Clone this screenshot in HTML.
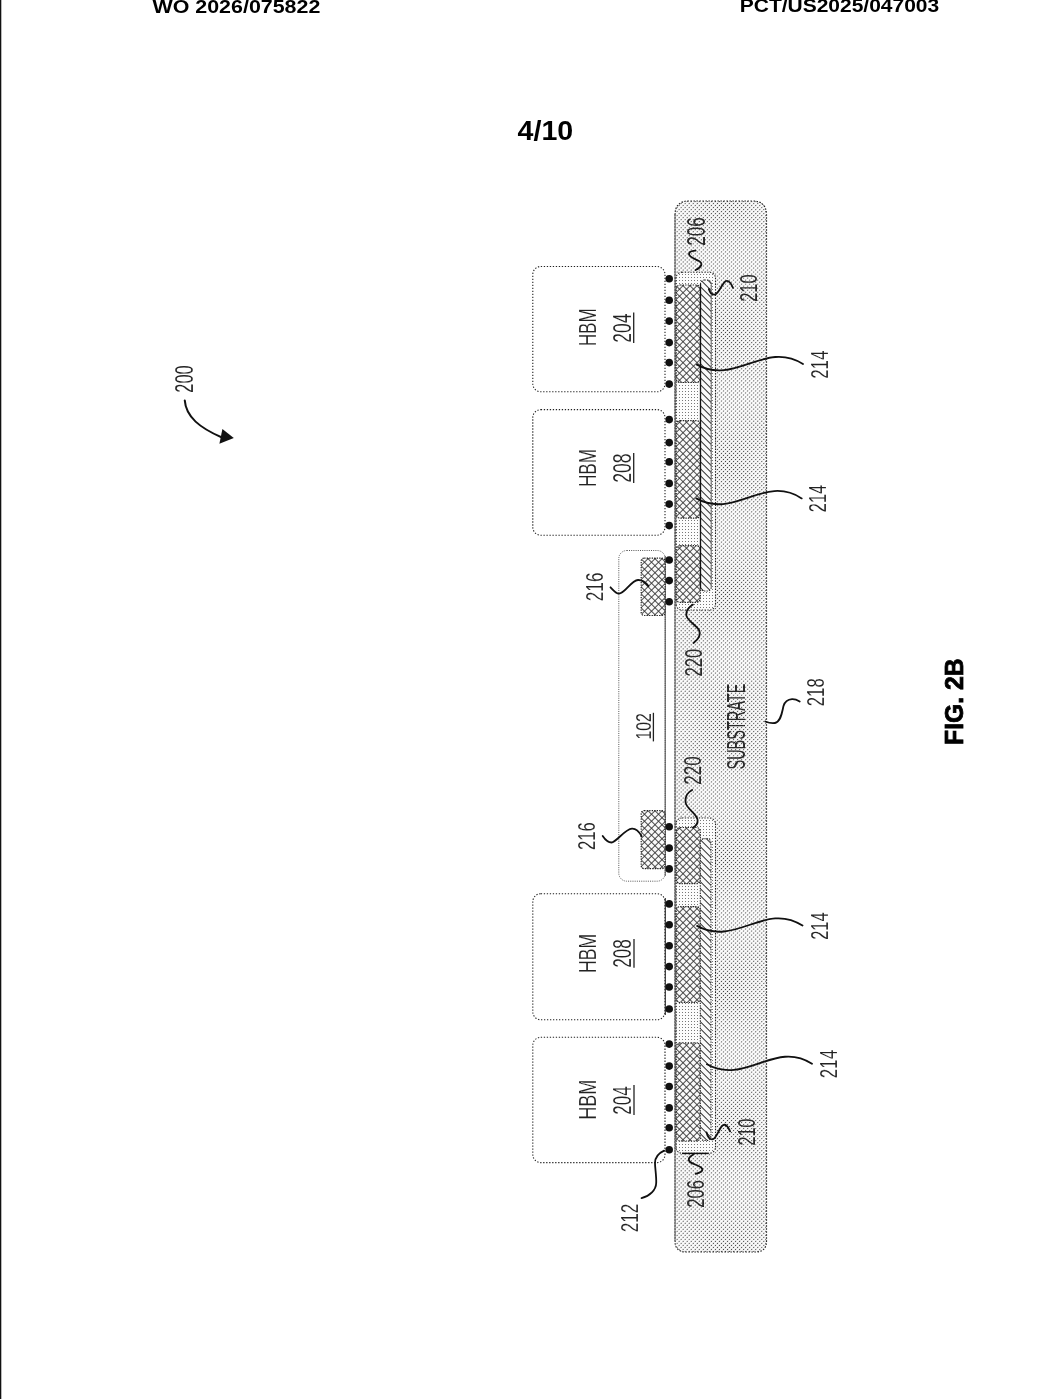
<!DOCTYPE html>
<html><head><meta charset="utf-8"><style>
html,body{margin:0;padding:0;background:#fff;}
body{width:1041px;height:1399px;overflow:hidden;position:relative;}
svg{position:absolute;left:0;top:0;}
text{font-family:"Liberation Sans", sans-serif;}
svg{will-change:transform;}
</style></head><body>
<svg width="1041" height="1399" viewBox="0 0 1041 1399">

<defs>
<pattern id="stip" width="2.85" height="2.85" patternUnits="userSpaceOnUse" patternTransform="rotate(45)">
 <rect width="2.85" height="2.85" fill="#fdfdfd"/>
 <circle cx="1.425" cy="1.425" r="0.6" fill="#404040"/>
</pattern>
<pattern id="light" width="3" height="3" patternUnits="userSpaceOnUse">
 <rect width="3" height="3" fill="#fcfcfc"/>
 <rect x="1" y="1" width="1" height="1" fill="#777"/>
</pattern>
<pattern id="xh" width="4.95" height="4.95" patternUnits="userSpaceOnUse" patternTransform="translate(676,285) rotate(45)">
 <rect width="4.95" height="4.95" fill="#fafafa"/>
 <rect x="0" y="0" width="4.95" height="0.88" fill="#333"/>
 <rect x="0" y="0" width="0.88" height="4.95" fill="#333"/>
</pattern>
<pattern id="dh" width="4.95" height="4.95" patternUnits="userSpaceOnUse" patternTransform="translate(700,280) rotate(-45)">
 <rect width="4.95" height="4.95" fill="#fafafa"/>
 <rect x="0" y="0" width="0.95" height="4.95" fill="#222"/>
</pattern>
</defs>

<rect x="0" y="0" width="1.3" height="1399" fill="#111"/>
<text transform="translate(152.50,12.80) scale(1.2242,1)" x="-0.00" y="0" font-size="17.50" font-weight="bold" fill="#000">WO 2026/075822</text>
<text transform="translate(741.20,12.30) scale(1.2000,1)" x="-1.23" y="0" font-size="17.50" font-weight="bold" fill="#000">PCT/US2025/047003</text>
<text transform="translate(518.10,139.90) scale(1.0409,1)" x="-0.55" y="0" font-size="27.50" font-weight="bold" fill="#000">4/10</text>
<text transform="translate(962.80,743.20) rotate(-90) scale(0.9365,1)" x="-1.85" y="0" font-size="26.43" font-weight="bold" fill="#000" stroke="#000" stroke-width="0.8">FIG. 2B</text>
<path d="M675.0,215.0 Q675.0,201.0 689.0,201.0 L752.5,201.0 Q766.5,201.0 766.5,215.0 L766.5,1241.0 Q766.5,1252.0 755.5,1252.0 L686.0,1252.0 Q675.0,1252.0 675.0,1241.0 Z" fill="url(#stip)" stroke="#222" stroke-width="1.2" stroke-dasharray="1.5 1.5"/>
<line x1="675.0" y1="215.0" x2="675.0" y2="1241.0" stroke="#777" stroke-width="1.2"/>
<rect x="676" y="272.3" width="39.5" height="337.7" rx="6" ry="6" fill="url(#light)" stroke="#222" stroke-width="1.1" stroke-dasharray="1.3 1.5"/>
<rect x="676" y="818.0" width="39.5" height="335.20000000000005" rx="6" ry="6" fill="url(#light)" stroke="#222" stroke-width="1.1" stroke-dasharray="1.3 1.5"/>
<line x1="682" y1="1153.4" x2="708.5" y2="1153.4" stroke="#111" stroke-width="1.5"/>
<rect x="676.2" y="285" width="24.09999999999991" height="97.5" rx="4" ry="4" fill="url(#xh)" stroke="#222" stroke-width="1.2" stroke-dasharray="1.3 1.2"/>
<rect x="676.2" y="420.6" width="24.09999999999991" height="97.60000000000002" rx="4" ry="4" fill="url(#xh)" stroke="#222" stroke-width="1.2" stroke-dasharray="1.3 1.2"/>
<rect x="676.2" y="545.6" width="24.09999999999991" height="56.799999999999955" rx="4" ry="4" fill="url(#xh)" stroke="#222" stroke-width="1.2" stroke-dasharray="1.3 1.2"/>
<rect x="676.2" y="827.5" width="24.09999999999991" height="56.200000000000045" rx="4" ry="4" fill="url(#xh)" stroke="#222" stroke-width="1.2" stroke-dasharray="1.3 1.2"/>
<rect x="676.2" y="906.6" width="24.09999999999991" height="95.89999999999998" rx="4" ry="4" fill="url(#xh)" stroke="#222" stroke-width="1.2" stroke-dasharray="1.3 1.2"/>
<rect x="676.2" y="1043" width="24.09999999999991" height="98" rx="4" ry="4" fill="url(#xh)" stroke="#222" stroke-width="1.2" stroke-dasharray="1.3 1.2"/>
<rect x="700.5" y="280" width="10.799999999999955" height="311" rx="4" ry="4" fill="url(#dh)" stroke="#222" stroke-width="1.1" stroke-dasharray="1.3 1.2"/>
<rect x="700.3" y="838.7" width="10.700000000000045" height="301.79999999999995" rx="4" ry="4" fill="url(#dh)" stroke="#222" stroke-width="1.1" stroke-dasharray="1.3 1.2"/>
<line x1="700.5" y1="284" x2="700.5" y2="588" stroke="#111" stroke-width="1.3"/>
<line x1="711.3" y1="284" x2="711.3" y2="588" stroke="#888" stroke-width="1"/>
<rect x="532.8" y="266.5" width="132.2" height="125.30000000000001" rx="8" ry="8" fill="#fff" stroke="#222" stroke-width="1.1" stroke-dasharray="1.3 1.7"/>
<rect x="532.8" y="409.6" width="132.2" height="125.60000000000002" rx="8" ry="8" fill="#fff" stroke="#222" stroke-width="1.1" stroke-dasharray="1.3 1.7"/>
<rect x="532.8" y="893.7" width="132.2" height="126.09999999999991" rx="8" ry="8" fill="#fff" stroke="#222" stroke-width="1.1" stroke-dasharray="1.3 1.7"/>
<line x1="665.3" y1="898" x2="665.3" y2="1015" stroke="#333" stroke-width="1.2"/>
<rect x="532.8" y="1037.3" width="132.2" height="125.29999999999995" rx="8" ry="8" fill="#fff" stroke="#222" stroke-width="1.1" stroke-dasharray="1.3 1.7"/>
<rect x="618.8" y="550.5" width="46.4" height="330.7" rx="8" ry="8" fill="#fff" stroke="#555" stroke-width="1" stroke-dasharray="1 1.2"/>
<line x1="665.2" y1="556" x2="665.2" y2="876" stroke="#555" stroke-width="1.1"/>
<rect x="641.2" y="558.1" width="23.799999999999955" height="57.39999999999998" rx="3" ry="3" fill="url(#xh)" stroke="#222" stroke-width="1.2" stroke-dasharray="1.3 1.2"/>
<rect x="641.2" y="810.6" width="23.799999999999955" height="58.10000000000002" rx="3" ry="3" fill="url(#xh)" stroke="#222" stroke-width="1.2" stroke-dasharray="1.3 1.2"/>
<circle cx="669.2" cy="278.8" r="3.8" fill="#111"/>
<circle cx="669.2" cy="300.3" r="3.8" fill="#111"/>
<circle cx="669.2" cy="321.1" r="3.8" fill="#111"/>
<circle cx="669.2" cy="342.6" r="3.8" fill="#111"/>
<circle cx="669.2" cy="362.6" r="3.8" fill="#111"/>
<circle cx="669.2" cy="384.1" r="3.8" fill="#111"/>
<circle cx="669.2" cy="419.6" r="3.8" fill="#111"/>
<circle cx="669.2" cy="442.6" r="3.8" fill="#111"/>
<circle cx="669.2" cy="461.9" r="3.8" fill="#111"/>
<circle cx="669.2" cy="483.4" r="3.8" fill="#111"/>
<circle cx="669.2" cy="504.1" r="3.8" fill="#111"/>
<circle cx="669.2" cy="525.6" r="3.8" fill="#111"/>
<circle cx="669.2" cy="560" r="3.8" fill="#111"/>
<circle cx="669.2" cy="580.6" r="3.8" fill="#111"/>
<circle cx="669.2" cy="601.8" r="3.8" fill="#111"/>
<circle cx="669.2" cy="826.8" r="3.8" fill="#111"/>
<circle cx="669.2" cy="848.1" r="3.8" fill="#111"/>
<circle cx="669.2" cy="868.9" r="3.8" fill="#111"/>
<circle cx="669.2" cy="903.9" r="3.8" fill="#111"/>
<circle cx="669.2" cy="924.8" r="3.8" fill="#111"/>
<circle cx="669.2" cy="945.7" r="3.8" fill="#111"/>
<circle cx="669.2" cy="966.6" r="3.8" fill="#111"/>
<circle cx="669.2" cy="987" r="3.8" fill="#111"/>
<circle cx="669.2" cy="1009" r="3.8" fill="#111"/>
<circle cx="669.2" cy="1044.1" r="3.8" fill="#111"/>
<circle cx="669.2" cy="1066.1" r="3.8" fill="#111"/>
<circle cx="669.2" cy="1086.5" r="3.8" fill="#111"/>
<circle cx="669.2" cy="1107.9" r="3.8" fill="#111"/>
<circle cx="669.2" cy="1127.7" r="3.8" fill="#111"/>
<circle cx="669.2" cy="1149.7" r="3.8" fill="#111"/>
<text transform="translate(596.10,344.90) rotate(-90) scale(0.6996,1)" x="-1.96" y="0" font-size="24.49" font-weight="normal" fill="#222" stroke="#fff" stroke-width="0.12">HBM</text>
<text transform="translate(630.70,341.80) rotate(-90) scale(0.6915,1)" x="-1.26" y="0" font-size="25.29" font-weight="normal" fill="#222" stroke="#fff" stroke-width="0.12">204</text>
<line x1="633.7" y1="312.5" x2="633.7" y2="343" stroke="#222" stroke-width="1.3"/>
<text transform="translate(596.10,485.70) rotate(-90) scale(0.7016,1)" x="-1.96" y="0" font-size="24.49" font-weight="normal" fill="#222" stroke="#fff" stroke-width="0.12">HBM</text>
<text transform="translate(630.70,481.80) rotate(-90) scale(0.6952,1)" x="-1.26" y="0" font-size="25.29" font-weight="normal" fill="#222" stroke="#fff" stroke-width="0.12">208</text>
<line x1="633.7" y1="453" x2="633.7" y2="483" stroke="#222" stroke-width="1.3"/>
<text transform="translate(596.20,971.60) rotate(-90) scale(0.7414,1)" x="-1.90" y="0" font-size="23.77" font-weight="normal" fill="#222" stroke="#fff" stroke-width="0.12">HBM</text>
<text transform="translate(630.60,966.90) rotate(-90) scale(0.6815,1)" x="-1.26" y="0" font-size="25.14" font-weight="normal" fill="#222" stroke="#fff" stroke-width="0.12">208</text>
<line x1="634" y1="939" x2="634" y2="967.8" stroke="#222" stroke-width="1.3"/>
<text transform="translate(596.20,1118.40) rotate(-90) scale(0.7461,1)" x="-1.94" y="0" font-size="24.20" font-weight="normal" fill="#222" stroke="#fff" stroke-width="0.12">HBM</text>
<text transform="translate(630.60,1113.80) rotate(-90) scale(0.6754,1)" x="-1.26" y="0" font-size="25.14" font-weight="normal" fill="#222" stroke="#fff" stroke-width="0.12">204</text>
<line x1="634" y1="1085" x2="634" y2="1115" stroke="#222" stroke-width="1.3"/>
<text transform="translate(705.30,244.90) rotate(-90) scale(0.6663,1)" x="-1.29" y="0" font-size="25.71" font-weight="normal" fill="#2a2a2a">206</text>
<text transform="translate(756.70,301.00) rotate(-90) scale(0.7067,1)" x="-1.16" y="0" font-size="23.29" font-weight="normal" fill="#2a2a2a">210</text>
<text transform="translate(827.80,378.00) rotate(-90) scale(0.6911,1)" x="-1.23" y="0" font-size="24.57" font-weight="normal" fill="#222" stroke="#fff" stroke-width="0.12">214</text>
<text transform="translate(826.00,511.40) rotate(-90) scale(0.6759,1)" x="-1.21" y="0" font-size="24.29" font-weight="normal" fill="#222" stroke="#fff" stroke-width="0.12">214</text>
<text transform="translate(827.80,939.00) rotate(-90) scale(0.6681,1)" x="-1.23" y="0" font-size="24.57" font-weight="normal" fill="#222" stroke="#fff" stroke-width="0.12">214</text>
<text transform="translate(836.80,1077.40) rotate(-90) scale(0.6911,1)" x="-1.23" y="0" font-size="24.57" font-weight="normal" fill="#222" stroke="#fff" stroke-width="0.12">214</text>
<text transform="translate(603.00,600.30) rotate(-90) scale(0.7097,1)" x="-1.21" y="0" font-size="24.14" font-weight="normal" fill="#222" stroke="#fff" stroke-width="0.12">216</text>
<text transform="translate(595.40,849.10) rotate(-90) scale(0.6886,1)" x="-1.21" y="0" font-size="24.14" font-weight="normal" fill="#222" stroke="#fff" stroke-width="0.12">216</text>
<text transform="translate(702.20,675.70) rotate(-90) scale(0.6868,1)" x="-1.21" y="0" font-size="24.14" font-weight="normal" fill="#2a2a2a">220</text>
<text transform="translate(700.60,783.80) rotate(-90) scale(0.7052,1)" x="-1.21" y="0" font-size="24.14" font-weight="normal" fill="#2a2a2a">220</text>
<text transform="translate(650.60,738.20) rotate(-90) scale(0.6991,1)" x="-1.81" y="0" font-size="22.57" font-weight="normal" fill="#222" stroke="#fff" stroke-width="0.12">102</text>
<line x1="653.4" y1="712.8" x2="653.4" y2="741.4" stroke="#222" stroke-width="1.3"/>
<text transform="translate(744.70,768.80) rotate(-90) scale(0.5637,1)" x="-1.29" y="0" font-size="25.71" font-weight="normal" fill="#2a2a2a">SUBSTRATE</text>
<text transform="translate(824.00,705.40) rotate(-90) scale(0.6924,1)" x="-1.21" y="0" font-size="24.29" font-weight="normal" fill="#222" stroke="#fff" stroke-width="0.12">218</text>
<text transform="translate(638.40,1231.40) rotate(-90) scale(0.7097,1)" x="-1.21" y="0" font-size="24.14" font-weight="normal" fill="#222" stroke="#fff" stroke-width="0.12">212</text>
<text transform="translate(703.80,1206.80) rotate(-90) scale(0.7183,1)" x="-1.16" y="0" font-size="23.14" font-weight="normal" fill="#2a2a2a">206</text>
<text transform="translate(754.50,1144.60) rotate(-90) scale(0.6659,1)" x="-1.21" y="0" font-size="24.14" font-weight="normal" fill="#2a2a2a">210</text>
<text transform="translate(192.50,391.90) rotate(-90) scale(0.6375,1)" x="-1.29" y="0" font-size="25.71" font-weight="normal" fill="#222" stroke="#fff" stroke-width="0.12">200</text>
<path d="M696.9,364.6 C735.0,386.0 765.0,340.0 803,364" fill="none" stroke="#111" stroke-width="1.8" stroke-linecap="round"/>
<path d="M696.3,498.4 C734.4,519.8 764.4,473.79999999999995 801.7,498.4" fill="none" stroke="#111" stroke-width="1.8" stroke-linecap="round"/>
<path d="M697.1,925.9 C735.2,947.3 765.2,901.3 802.5,925.6" fill="none" stroke="#111" stroke-width="1.8" stroke-linecap="round"/>
<path d="M707,1064.3 C745.1,1085.7 775.1,1039.7 812,1063.8" fill="none" stroke="#111" stroke-width="1.8" stroke-linecap="round"/>
<path d="M184.75,400.4 C186,417 200,428 222,437.5" fill="none" stroke="#111" stroke-width="2" stroke-linecap="round"/>
<path d="M695.6,270 C702,267 703,263 699,261 C695,259 689,257 689,254 C689,252 692,251 695.6,250.7" fill="none" stroke="#111" stroke-width="1.8" stroke-linecap="round"/>
<path d="M708.8,289 C710,293 712,295 715,294.5 C719,293.5 722,283 726,281 C729,280 731,283 733,287.8" fill="none" stroke="#111" stroke-width="1.8" stroke-linecap="round"/>
<path d="M706.5,1132.3 C707.5,1137 710,1140 713,1139.2 C716.5,1138 719,1129 722,1126 C725,1123 728,1126 730.1,1131.4" fill="none" stroke="#111" stroke-width="1.8" stroke-linecap="round"/>
<path d="M693.8,1154.2 C690,1156 687.5,1159 689.5,1161.5 C692,1164 700,1165.5 702,1168.5 C703.5,1171 700,1173 695.6,1173.8" fill="none" stroke="#111" stroke-width="1.8" stroke-linecap="round"/>
<path d="M664.1,1150.6 C659,1153 655,1157 655,1163 C655,1168 656.5,1176 656.2,1183 C656,1190 650,1196 641.5,1198.1" fill="none" stroke="#111" stroke-width="1.8" stroke-linecap="round"/>
<path d="M610.5,587.3 C613,590 616,593.6 619,593.6 C625,593.6 631,580.4 638,580 C643,579.8 646,583 648.5,586.1" fill="none" stroke="#111" stroke-width="1.8" stroke-linecap="round"/>
<path d="M602.7,836 C605,839.5 608.5,842.5 611.6,842.5 C616,842.5 625,829 632,828.7 C636,828.5 639,831.5 641.6,836.3" fill="none" stroke="#111" stroke-width="1.8" stroke-linecap="round"/>
<path d="M693,604.6 C689,607 686,611 686.3,615.2 C686.6,620 696,625 699,630 C701,634 700,638 693.5,643" fill="none" stroke="#111" stroke-width="1.8" stroke-linecap="round"/>
<path d="M692.2,790 C688,792 685,796 685.5,802 C686,809 697,813 697.6,820 C698,824 696,826 693,827.6" fill="none" stroke="#111" stroke-width="1.8" stroke-linecap="round"/>
<path d="M765.3,721.5 C769,723 772,723.5 775,723 C781,722 782,712 783.5,706 C785,701 788,699.5 792,699.2 C795,699 798,700.5 799.7,701.5" fill="none" stroke="#111" stroke-width="1.8" stroke-linecap="round"/>
<polygon points="233.8,438.1 222.4,429 219.4,443.8" fill="#111"/>
</svg>
</body></html>
